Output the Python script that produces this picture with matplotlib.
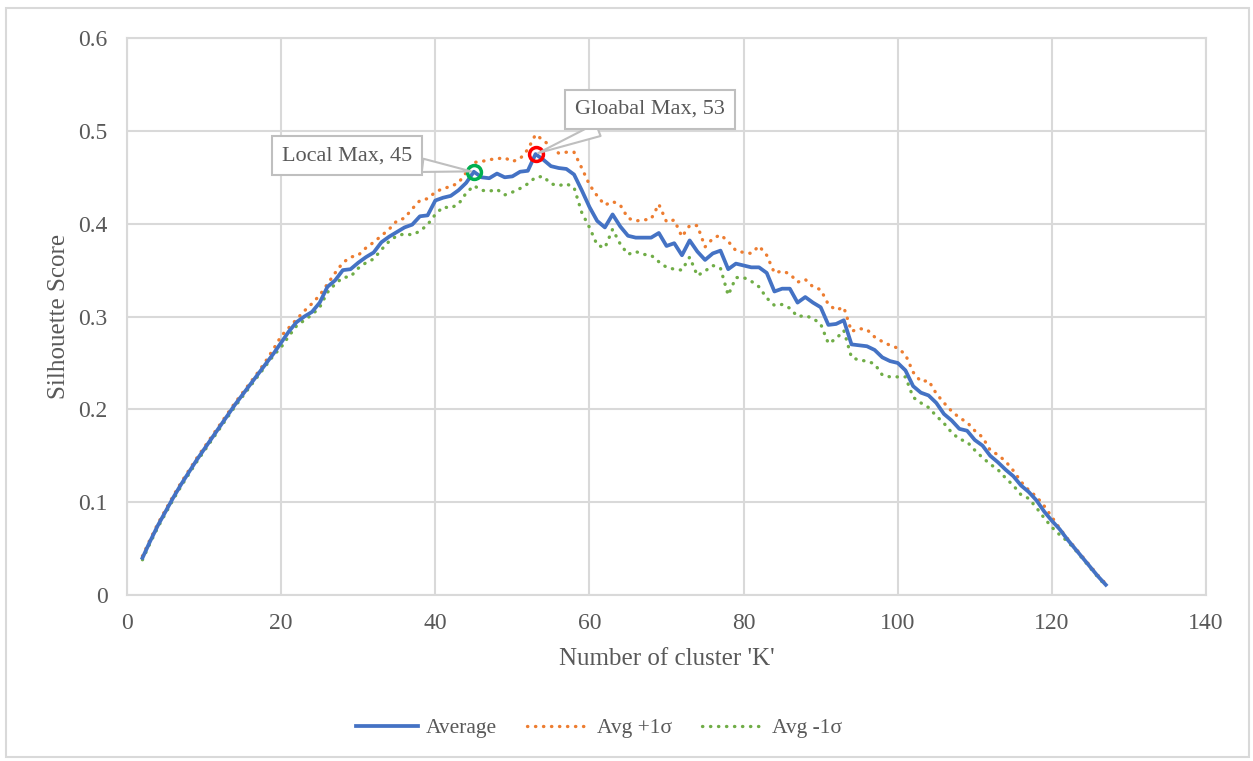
import numpy as np
import matplotlib
matplotlib.use('Agg')
import matplotlib.pyplot as plt
from matplotlib.patches import Rectangle

# number of clusters K
k = list(range(2, 128))

# average silhouette score
avg = [0.040, 0.058, 0.075, 0.090, 0.105, 0.119, 0.132, 0.145, 0.157, 0.169,
       0.181, 0.193, 0.205, 0.216, 0.227, 0.238, 0.249, 0.260, 0.272, 0.284,
       0.294, 0.300, 0.305, 0.315, 0.332, 0.339, 0.350, 0.351, 0.358, 0.364,
       0.369, 0.380, 0.386, 0.391, 0.396, 0.399, 0.408, 0.409, 0.425, 0.428,
       0.430, 0.436, 0.444, 0.456, 0.450, 0.449, 0.454, 0.450, 0.451, 0.456,
       0.457, 0.475, 0.469, 0.462, 0.460, 0.459, 0.453, 0.436, 0.418, 0.403,
       0.396, 0.410, 0.397, 0.387, 0.385, 0.385, 0.385, 0.390, 0.376, 0.379,
       0.366, 0.382, 0.370, 0.361, 0.368, 0.371, 0.351, 0.357, 0.355, 0.353,
       0.353, 0.347, 0.327, 0.330, 0.330, 0.315, 0.321, 0.315, 0.310, 0.291,
       0.292, 0.296, 0.270, 0.269, 0.268, 0.264, 0.256, 0.252, 0.250, 0.242,
       0.225, 0.218, 0.215, 0.207, 0.195, 0.188, 0.179, 0.177, 0.167, 0.161,
       0.150, 0.143, 0.135, 0.128, 0.118, 0.111, 0.102, 0.090, 0.080, 0.071,
       0.060, 0.050, 0.040, 0.030, 0.020, 0.011]

# average + 1 sigma
plus = [0.042, 0.060, 0.077, 0.092, 0.107, 0.121, 0.134, 0.147, 0.159, 0.171,
        0.183, 0.195, 0.207, 0.218, 0.229, 0.240, 0.252, 0.265, 0.279, 0.288,
        0.297, 0.306, 0.314, 0.323, 0.335, 0.347, 0.358, 0.364, 0.366, 0.374,
        0.380, 0.387, 0.394, 0.403, 0.406, 0.416, 0.425, 0.427, 0.434, 0.438,
        0.440, 0.444, 0.455, 0.466, 0.467, 0.469, 0.470, 0.471, 0.467, 0.470,
        0.480, 0.496, 0.490, 0.483, 0.476, 0.477, 0.477, 0.460, 0.442, 0.430,
        0.420, 0.424, 0.420, 0.406, 0.403, 0.404, 0.405, 0.421, 0.402, 0.404,
        0.386, 0.398, 0.398, 0.375, 0.384, 0.388, 0.381, 0.371, 0.369, 0.368,
        0.376, 0.366, 0.347, 0.349, 0.346, 0.337, 0.340, 0.332, 0.329, 0.313,
        0.307, 0.310, 0.284, 0.287, 0.286, 0.278, 0.273, 0.269, 0.266, 0.259,
        0.240, 0.230, 0.231, 0.217, 0.207, 0.198, 0.191, 0.186, 0.177, 0.170,
        0.156, 0.151, 0.144, 0.134, 0.122, 0.113, 0.106, 0.096, 0.084, 0.072,
        0.061, 0.051, 0.041, 0.031, 0.021, 0.012]

# average - 1 sigma
minus = [0.038, 0.056, 0.073, 0.088, 0.103, 0.117, 0.130, 0.143, 0.155, 0.167,
         0.179, 0.191, 0.203, 0.214, 0.225, 0.236, 0.247, 0.258, 0.267, 0.279,
         0.290, 0.296, 0.302, 0.310, 0.326, 0.335, 0.342, 0.343, 0.352, 0.358,
         0.362, 0.372, 0.381, 0.387, 0.389, 0.388, 0.392, 0.399, 0.410, 0.418,
         0.417, 0.421, 0.433, 0.441, 0.436, 0.435, 0.437, 0.431, 0.434, 0.438,
         0.443, 0.450, 0.451, 0.443, 0.441, 0.443, 0.439, 0.412, 0.396, 0.377,
         0.374, 0.394, 0.378, 0.367, 0.370, 0.367, 0.366, 0.359, 0.353, 0.351,
         0.350, 0.364, 0.344, 0.349, 0.355, 0.352, 0.323, 0.342, 0.342, 0.338,
         0.332, 0.320, 0.312, 0.313, 0.309, 0.300, 0.301, 0.298, 0.292, 0.271,
         0.276, 0.285, 0.256, 0.253, 0.252, 0.249, 0.237, 0.235, 0.235, 0.235,
         0.213, 0.207, 0.202, 0.193, 0.185, 0.175, 0.168, 0.165, 0.156, 0.148,
         0.141, 0.135, 0.126, 0.118, 0.108, 0.104, 0.094, 0.083, 0.073, 0.065,
         0.058, 0.049, 0.039, 0.029, 0.019, 0.010]

local_k, global_k = 45, 53
xticks = [0, 20, 40, 60, 80, 100, 120, 140]
yticks = [0, 0.1, 0.2, 0.3, 0.4, 0.5, 0.6]
ytick_labels = ['0', '0.1', '0.2', '0.3', '0.4', '0.5', '0.6']

plt.rcParams['font.family'] = ['Liberation Serif', 'DejaVu Serif']
grey = '#595959'
gridc = '#d9d9d9'

fig = plt.figure(figsize=(12.53, 7.61), dpi=100)
ax = fig.add_axes([0.1014, 0.2181, 0.8611, 0.7319])

# light border round the whole chart
fig.patches.append(Rectangle((6 / 1253, 4 / 761), 1243 / 1253, 749 / 761,
                             transform=fig.transFigure, fill=False,
                             ec=gridc, lw=1.5))

ax.plot(k, avg, color='#4472c4', lw=2.7, solid_joinstyle='round',
        label='Average', zorder=4)
ax.plot(k, plus, color='#ed7d31', lw=2.4, ls=(0, (0.1, 2.3)),
        dash_capstyle='round', label='Avg +1σ', zorder=3)
ax.plot(k, minus, color='#70ad47', lw=2.4, ls=(0, (0.1, 2.3)),
        dash_capstyle='round', label='Avg -1σ', zorder=3)

v_local = avg[k.index(local_k)]
v_global = avg[k.index(global_k)]
ax.plot([local_k], [v_local], 'o', ms=10, mfc='none', mec='#00b050', mew=2.5, zorder=5)
ax.plot([global_k], [v_global], 'o', ms=10, mfc='none', mec='#ff0000', mew=2.5, zorder=5)

box = dict(boxstyle='square,pad=0.45', fc='white', ec='#bfbfbf', lw=1.5)
wedge = dict(arrowstyle='wedge,tail_width=0.6,shrink_factor=0.5', fc='white',
             ec='#bfbfbf', lw=1.5, shrinkA=0, shrinkB=2)
ax.annotate(f'Local Max, {local_k}', xy=(local_k, v_local), xytext=(28.5, 0.473),
            ha='center', va='center', fontsize=16, color=grey,
            bbox=box, arrowprops=wedge, zorder=6)
ax.annotate(f'Gloabal Max, {global_k}', xy=(global_k, v_global), xytext=(67.9, 0.523),
            ha='center', va='center', fontsize=16, color=grey,
            bbox=box, arrowprops=wedge, zorder=6)

ax.set_xlim(0, 140)
ax.set_ylim(0, 0.6)
ax.set_xticks(xticks)
ax.set_yticks(yticks)
ax.set_yticklabels(ytick_labels)
ax.tick_params(length=0, labelsize=17, labelcolor=grey)
ax.tick_params(axis='y', pad=14)
ax.tick_params(axis='x', pad=13)
ax.grid(True, color=gridc, lw=1.5)
ax.set_axisbelow(True)
for s in ax.spines.values():
    s.set_color(gridc)
    s.set_linewidth(1.5)

ax.set_xlabel("Number of cluster 'K'", fontsize=18, color=grey, labelpad=10)
ax.set_ylabel('Silhouette Score', fontsize=18, color=grey, labelpad=6)

fig.legend(loc='center', bbox_to_anchor=(0.478, 0.043), ncol=3, frameon=False,
           fontsize=15.5, handlelength=2.9, handletextpad=0.35, columnspacing=1.4,
           labelcolor=grey)

fig.savefig('out.png', dpi=100)
